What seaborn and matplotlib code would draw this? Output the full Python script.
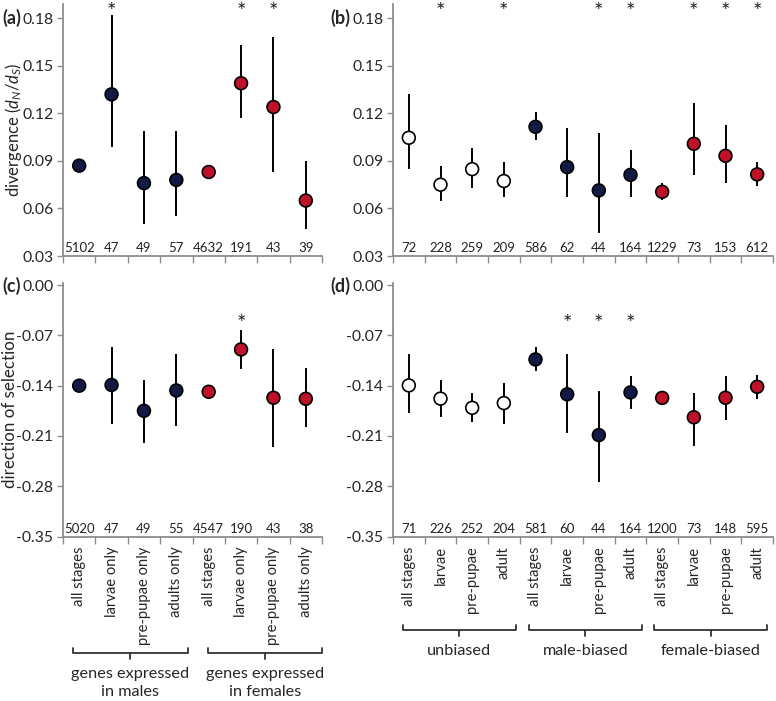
import numpy as np
import pandas as pd
import matplotlib
matplotlib.use("Agg")
import matplotlib.pyplot as plt
import matplotlib.transforms as mtransforms
import seaborn as sns

# --- data ---
# panel (a): divergence, genes expressed in males / females
a_labels = ["all stages", "larvae only", "pre-pupae only", "adults only"] * 2
a_group = ["male"] * 4 + ["female"] * 4
a_val = [0.087, 0.132, 0.076, 0.078, 0.083, 0.139, 0.124, 0.065]
a_lo = [np.nan, 0.099, 0.050, 0.055, np.nan, 0.117, 0.083, 0.047]
a_hi = [np.nan, 0.182, 0.109, 0.109, np.nan, 0.163, 0.168, 0.090]
a_n = [5102, 47, 49, 57, 4632, 191, 43, 39]
a_star = [0, 1, 0, 0, 0, 1, 1, 0]

# panel (b): divergence, sex-biased expression
b_labels = ["all stages", "larvae", "pre-pupae", "adult"] * 3
b_group = ["unbiased"] * 4 + ["male"] * 4 + ["female"] * 4
b_val = [0.1046, 0.075, 0.0848, 0.0773, 0.1115, 0.0861, 0.0714, 0.0812, 0.0705, 0.1008, 0.0932, 0.0815]
b_lo = [0.085, 0.0649, 0.073, 0.067, 0.1031, 0.0674, 0.0443, 0.067, 0.0653, 0.0809, 0.076, 0.0741]
b_hi = [0.132, 0.0867, 0.0979, 0.089, 0.1206, 0.1107, 0.1077, 0.0966, 0.0758, 0.1266, 0.1126, 0.089]
b_n = [72, 228, 259, 209, 586, 62, 44, 164, 1229, 73, 153, 612]
b_star = [0, 1, 0, 1, 0, 0, 1, 1, 0, 1, 1, 1]

# panel (c): direction of selection, males / females
c_val = [-0.140, -0.139, -0.175, -0.1466, -0.1485, -0.0895, -0.1568, -0.1582]
c_lo = [np.nan, -0.194, -0.2195, -0.1958, np.nan, -0.1165, -0.225, -0.198]
c_hi = [np.nan, -0.0867, -0.132, -0.0965, np.nan, -0.0626, -0.0887, -0.1159]
c_n = [5020, 47, 49, 55, 4547, 190, 43, 38]
c_star = [0, 0, 0, 0, 0, 1, 0, 0]

# panel (d): direction of selection, sex-biased expression
d_val = [-0.1396, -0.158, -0.1708, -0.1642, -0.1034, -0.152, -0.2088, -0.1493, -0.157, -0.184, -0.1568, -0.1415]
d_lo = [-0.178, -0.1833, -0.1902, -0.193, -0.1201, -0.2064, -0.2737, -0.173, -0.167, -0.2236, -0.1874, -0.158]
d_hi = [-0.096, -0.1326, -0.1507, -0.1364, -0.0867, -0.096, -0.1475, -0.127, -0.149, -0.150, -0.127, -0.1257]
d_n = [71, 226, 252, 204, 581, 60, 44, 164, 1200, 73, 148, 595]
d_star = [0, 0, 0, 0, 0, 1, 1, 1, 0, 0, 0, 0]

div_ticks = [0.03, 0.06, 0.09, 0.12, 0.15, 0.18]
div_ticklabels = ["0.03", "0.06", "0.09", "0.12", "0.15", "0.18"]
dos_ticks = [-0.35, -0.28, -0.21, -0.14, -0.07, 0.00]
dos_ticklabels = ["-0.35", "-0.28", "-0.21", "-0.14", "-0.07", "0.00"]

a_groups_text = ["genes expressed\nin males", "genes expressed\nin females"]
b_groups_text = ["unbiased", "male-biased", "female-biased"]

palette = {"male": "#111a45", "female": "#bf1128", "unbiased": "#ffffff"}

sns.set_style("ticks")
plt.rcParams["font.family"] = ["Lato", "DejaVu Sans"]
plt.rcParams["mathtext.fontset"] = "custom"
plt.rcParams["mathtext.it"] = "Lato:italic"
plt.rcParams["mathtext.rm"] = "Lato"

W, H = 776, 701
fig = plt.figure(figsize=(W / 100, H / 100), dpi=100)
spine_col = "#8c8c8c"


def px_box(x0, x1, ytop, ybot):
    return [x0 / W, 1 - ybot / H, (x1 - x0) / W, (ybot - ytop) / H]


def panel(ax, vals, lo, hi, ns, stars, groups, ylim, ticks, ticklabels, star_y, xlabels=None):
    k = len(vals)
    df = pd.DataFrame({"pos": np.arange(k), "val": vals, "lo": lo, "hi": hi,
                       "n": ns, "star": stars, "group": groups})
    ax.vlines(df["pos"], df["lo"], df["hi"], color="black", lw=1.4, zorder=2)
    sns.scatterplot(data=df, x="pos", y="val", hue="group", palette=palette,
                    s=85, edgecolor="black", linewidth=1.2, legend=False,
                    ax=ax, zorder=3, clip_on=False)
    ax.set_xlim(-0.5, k - 0.5)
    ax.set_ylim(*ylim)
    ax.set_yticks(ticks)
    ax.set_yticklabels(ticklabels, fontsize=11.3)
    ax.set_xlabel("")
    ax.set_ylabel("")
    ax.set_xticks(np.arange(k))
    ax.set_xticks(np.arange(k + 1) - 0.5, minor=True)
    ax.tick_params(axis="x", which="major", length=0, pad=7)
    ax.tick_params(axis="x", which="minor", length=5, width=1, color=spine_col, direction="out")
    ax.tick_params(axis="y", length=4, width=1, color=spine_col, pad=3)
    if xlabels is None:
        ax.set_xticklabels([])
    else:
        ax.set_xticklabels(xlabels, rotation=90, fontsize=10.6, va="top")
    for s in ["top", "right"]:
        ax.spines[s].set_visible(False)
    for s in ["left", "bottom"]:
        ax.spines[s].set_color(spine_col)
        ax.spines[s].set_linewidth(1.3)
    trans = mtransforms.blended_transform_factory(ax.transData, ax.transAxes)
    for _, r in df.iterrows():
        ax.text(r["pos"], 0.03, str(int(r["n"])), transform=trans,
                ha="center", va="center", fontsize=9.5, color="#222222")
        if r["star"]:
            ax.text(r["pos"], star_y, "*", ha="center", va="center",
                    fontsize=16, color="#222222")


ax_a = fig.add_axes(px_box(63, 322, 4, 256))
ax_b = fig.add_axes(px_box(393, 773, 4, 256))
ax_c = fig.add_axes(px_box(63, 322, 283, 536.5))
ax_d = fig.add_axes(px_box(393, 773, 283, 536.5))

panel(ax_a, a_val, a_lo, a_hi, a_n, a_star, a_group, (0.03, 0.189),
      div_ticks, div_ticklabels, 0.184)
panel(ax_b, b_val, b_lo, b_hi, b_n, b_star, b_group, (0.03, 0.189),
      div_ticks, div_ticklabels, 0.184)
panel(ax_c, c_val, c_lo, c_hi, c_n, c_star, a_group, (-0.35, 0.003),
      dos_ticks, dos_ticklabels, -0.054, xlabels=a_labels)
panel(ax_d, d_val, d_lo, d_hi, d_n, d_star, b_group, (-0.35, 0.003),
      dos_ticks, dos_ticklabels, -0.054, xlabels=b_labels)

ax_a.set_ylabel(r"divergence ($d_N$/$d_S$)", fontsize=12)
ax_a.yaxis.set_label_coords(-0.152, 0.5)
ax_c.set_ylabel("direction of selection", fontsize=12.2)
ax_c.yaxis.set_label_coords(-0.172, 0.5)

for lab, x, y in [("(a)", 2, 18), ("(b)", 330, 18), ("(c)", 2, 286), ("(d)", 330, 286)]:
    fig.text(x / W, 1 - y / H, lab, fontsize=13, fontweight="bold", ha="left", va="center")


def brackets(ax, spans, texts, ybar, yend, ymid, ytext, fs):
    tr = mtransforms.blended_transform_factory(ax.transData, fig.transFigure)
    for (x0, x1), t in zip(spans, texts):
        xm = (x0 + x1) / 2
        ax.plot([x0, x0, x1, x1], [1 - yend / H, 1 - ybar / H, 1 - ybar / H, 1 - yend / H],
                color="#333333", lw=1.3, transform=tr, clip_on=False)
        ax.plot([xm, xm], [1 - ybar / H, 1 - ymid / H], color="#333333", lw=1.3,
                transform=tr, clip_on=False)
        ax.text(xm, 1 - ytext / H, t, transform=tr, ha="center", va="center",
                fontsize=fs, linespacing=1.3)


brackets(ax_c, [(-0.2, 3.35), (3.98, 7.5)], a_groups_text, 653, 648, 659, 683, 11.7)
brackets(ax_d, [(-0.2, 3.38), (3.78, 7.36), (7.74, 11.32)], b_groups_text, 630, 625, 636, 651, 11.7)

fig.savefig("out.png", dpi=100, facecolor="white")
